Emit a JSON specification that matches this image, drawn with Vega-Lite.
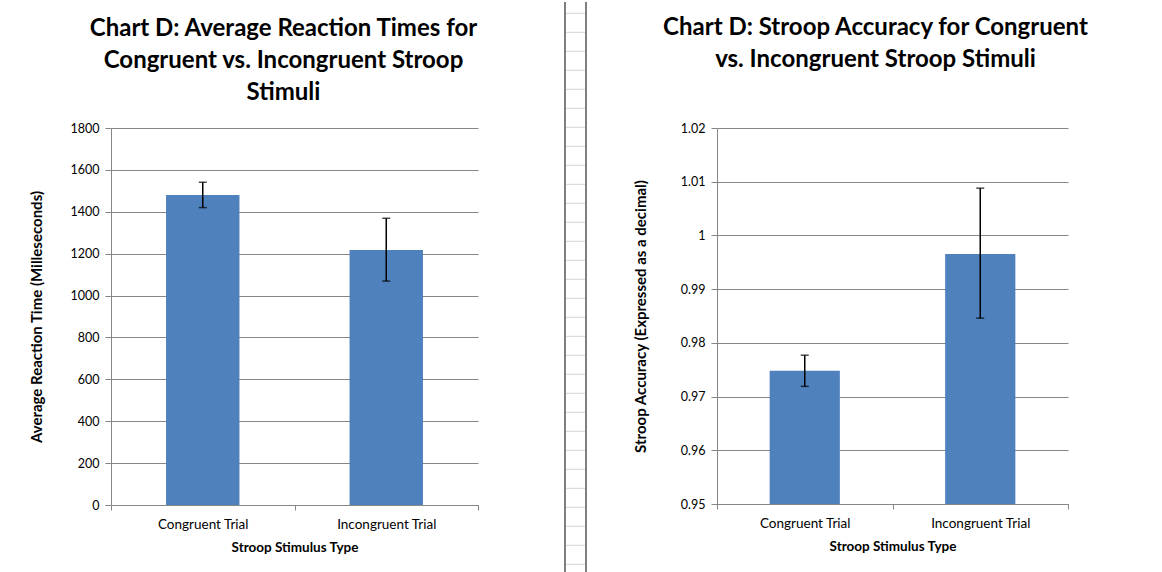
{
  "$schema": "https://vega.github.io/schema/vega-lite/v6.json",
  "background": "white",
  "padding": {"left": 29, "top": 0, "right": 0, "bottom": 0},
  "spacing": 85,
  "config": {
    "view": {"stroke": null},
    "font": "Lato",
    "axis": {
      "labelFont": "Lato", "labelFontSize": 12.5, "labelColor": "#000000",
      "titleFont": "Lato", "titleFontSize": 15, "titleFontWeight": "bold", "titleColor": "#000000",
      "domainColor": "#868686", "tickColor": "#868686", "gridColor": "#868686"
    },
    "axisX": {"labelFontSize": 13.5, "titleFontSize": 13.5},
    "title": {
      "font": "Lato", "fontSize": 24, "fontWeight": "bold", "color": "#000000", "lineHeight": 32.3,
      "anchor": "middle", "frame": "group"
    }
  },
  "hconcat": [
    {
      "width": 367, "height": 377,
      "title": {"text": ["Chart D: Average Reaction Times for", "Congruent vs. Incongruent Stroop", "Stimuli"], "offset": 16.5, "dx": -11},
      "data": {"values": [
        {"type": "Congruent Trial", "rt": 1480, "lo": 1420, "hi": 1541},
        {"type": "Incongruent Trial", "rt": 1218, "lo": 1069, "hi": 1369}
      ]},
      "encoding": {
        "x": {"field": "type", "type": "nominal", "sort": null,
          "scale": {"paddingInner": 0, "paddingOuter": 0},
          "axis": {"title": "Stroop Stimulus Type", "labelAngle": 0, "tickBand": "extent", "tickSize": 5, "labelPadding": 7, "titlePadding": 10}}
      },
      "layer": [
        {"mark": {"type": "bar", "width": {"band": 0.4}, "color": "#4F81BD"},
         "encoding": {"y": {"field": "rt", "type": "quantitative",
           "scale": {"domain": [0, 1800], "nice": false},
           "axis": {"title": "Average Reaction Time (Milleseconds)", "values": [0,200,400,600,800,1000,1200,1400,1600,1800], "format": "d", "grid": true, "tickSize": 6, "labelPadding": 6, "titlePadding": 25.5}}}},
        {"mark": {"type": "rule", "color": "#000000", "strokeWidth": 1.5},
         "encoding": {"y": {"field": "lo", "type": "quantitative"}, "y2": {"field": "hi"}}},
        {"mark": {"type": "tick", "color": "#000000", "thickness": 1.5, "size": 8},
         "encoding": {"y": {"field": "hi", "type": "quantitative"}}},
        {"mark": {"type": "tick", "color": "#000000", "thickness": 1.5, "size": 8},
         "encoding": {"y": {"field": "lo", "type": "quantitative"}}}
      ]
    },
    {
      "spacing": 46,
      "hconcat": [
        {
          "width": 21, "height": 377,
          "layer": [
            {
              "data": {"values": [{"row":0},{"row":1},{"row":2},{"row":3},{"row":4},{"row":5},{"row":6},{"row":7},{"row":8},{"row":9},{"row":10},{"row":11},{"row":12},{"row":13},{"row":14},{"row":15},{"row":16},{"row":17},{"row":18},{"row":19},{"row":20},{"row":21},{"row":22},{"row":23},{"row":24},{"row":25},{"row":26},{"row":27},{"row":28},{"row":29}]},
              "mark": {"type": "rule", "color": "#d4d4d4", "strokeWidth": 1},
              "encoding": {
                "y": {"field": "row", "type": "quantitative", "scale": {"domain": [6.037, 25.879], "reverse": true, "nice": false, "zero": false}, "axis": null}
              }
            },
            {
              "data": {"values": [{"col": 0, "top": -0.595, "bottom": 29.45}, {"col": 1, "top": -0.595, "bottom": 29.45}]},
              "mark": {"type": "rule", "color": "#7f7f7f", "strokeWidth": 2},
              "encoding": {
                "x": {"field": "col", "type": "quantitative", "scale": {"domain": [0, 1], "nice": false, "zero": false}, "axis": null},
                "y": {"field": "top", "type": "quantitative", "axis": null},
                "y2": {"field": "bottom"}
              }
            }
          ]
        },
        {
          "width": 351, "height": 376,
          "title": {"text": ["Chart D: Stroop Accuracy for Congruent", "vs. Incongruent Stroop Stimuli"], "offset": 49.5, "dx": -17},
          "data": {"values": [
            {"type": "Congruent Trial", "acc": 0.9748, "lo": 0.9719, "hi": 0.9777},
            {"type": "Incongruent Trial", "acc": 0.99655, "lo": 0.9846, "hi": 1.0088}
          ]},
          "encoding": {
            "x": {"field": "type", "type": "nominal", "sort": null,
              "scale": {"paddingInner": 0, "paddingOuter": 0},
              "axis": {"title": "Stroop Stimulus Type", "labelAngle": 0, "tickBand": "extent", "tickSize": 5, "labelPadding": 7, "titlePadding": 10}}
          },
          "layer": [
            {"mark": {"type": "bar", "width": {"band": 0.4}, "color": "#4F81BD", "clip": true},
             "encoding": {"y": {"field": "acc", "type": "quantitative",
               "scale": {"domain": [0.95, 1.02], "nice": false, "zero": false},
               "axis": {"title": "Stroop Accuracy (Expressed as a decimal)", "values": [0.95,0.96,0.97,0.98,0.99,1,1.01,1.02], "format": "~g", "grid": true, "tickSize": 6, "labelPadding": 6, "titlePadding": 32}}}},
            {"mark": {"type": "rule", "color": "#000000", "strokeWidth": 1.5},
             "encoding": {"y": {"field": "lo", "type": "quantitative"}, "y2": {"field": "hi"}}},
            {"mark": {"type": "tick", "color": "#000000", "thickness": 1.5, "size": 8},
             "encoding": {"y": {"field": "hi", "type": "quantitative"}}},
            {"mark": {"type": "tick", "color": "#000000", "thickness": 1.5, "size": 8},
             "encoding": {"y": {"field": "lo", "type": "quantitative"}}}
          ]
        }
      ]
    }
  ]
}
